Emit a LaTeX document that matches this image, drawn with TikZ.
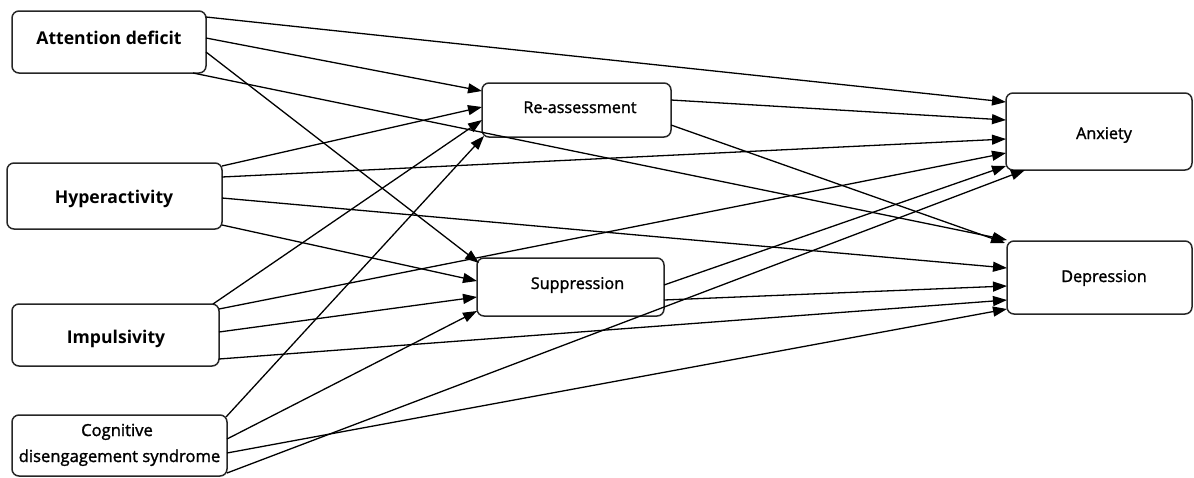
\documentclass[tikz,border=0pt]{standalone}
\usepackage{fontspec}
\setmainfont{Open Sans}
\newfontfamily\midfont{Open Sans}[FakeBold=1.5]
\usetikzlibrary{arrows.meta,calc}
\begin{document}
\begin{tikzpicture}[x=1pt,y=-1pt,
  box/.style={draw=black!85, line width=1.5pt, rounded corners=7pt, inner sep=0pt, outer sep=0pt},
  lefttext/.style={anchor=base, inner sep=0pt, font=\bfseries\fontsize{17.6}{22}\selectfont},
  midtext/.style={anchor=base, inner sep=0pt, font=\midfont\fontsize{16.2}{20}\selectfont},
  cdstext/.style={anchor=base, inner sep=0pt, font=\midfont\fontsize{16.6}{20}\selectfont},
  link/.style={draw=black, line width=1.3pt, -{Triangle[length=14pt,width=10pt]}}]
\useasboundingbox (0,0) rectangle (1194,477);

% boxes
\node[box, minimum width=194pt, minimum height=62pt] (ad)  at (109,42) {};
\node[box, minimum width=215pt, minimum height=66pt] (hyp) at (114.5,196) {};
\node[box, minimum width=207pt, minimum height=62pt] (imp) at (115.5,335) {};
\node[box, minimum width=215pt, minimum height=61pt] (cds) at (119.5,445.5) {};
\node[box, minimum width=189pt, minimum height=54pt] (rea) at (576.5,110) {};
\node[box, minimum width=187pt, minimum height=58pt] (sup) at (570.5,287) {};
\node[box, minimum width=186pt, minimum height=77pt] (anx) at (1099,131.5) {};
\node[box, minimum width=185pt, minimum height=73pt] (dep) at (1099.5,277.5) {};

% texts
\node[lefttext] (tad)  at (109,44)  {Attention deficit};
\node[lefttext] (thyp) at (114,203) {Hyperactivity};
\node[lefttext] (timp) at (116,343) {Impulsivity};
\node[cdstext]  (tcds1) at (117,436) {Cognitive};
\node[cdstext]  (tcds2) at (119.5,462) {disengagement syndrome};
\node[midtext]  (trea) at (580,113) {Re-assessment};
\node[midtext]  (tsup) at (577.5,289) {Suppression};
\node[midtext]  (tanx) at (1104,139) {Anxiety};
\node[midtext]  (tdep) at (1104,282) {Depression};

% connectors from Attention deficit
\draw[link] ($(ad.north east)+(0,6)$)  -- ($(anx.north west)+(0,9)$);
\draw[link] ($(ad.north east)+(0,27)$) -- ($(rea.north west)+(0,8)$);
\draw[link] ($(ad.north east)+(0,41)$) -- ($(sup.north west)+(2,5)$);
\draw[link] ($(ad.south east)+(-13,0)$) -- ($(dep.north west)+(0,-1)$);
% from Hyperactivity
\draw[link] ($(hyp.north east)+(0,3)$)  -- ($(rea.north west)+(0,24)$);
\draw[link] ($(hyp.north east)+(0,14)$) -- ($(anx.north west)+(0,46)$);
\draw[link] ($(hyp.north east)+(0,35)$) -- ($(dep.north west)+(0,27)$);
\draw[link] ($(hyp.north east)+(0,62)$) -- ($(sup.north west)+(0,23)$);
% from Impulsivity
\draw[link] ($(imp.north east)+(-6,0)$) -- ($(rea.north west)+(0,37)$);
\draw[link] ($(imp.north east)+(0,5)$)  -- ($(anx.north west)+(0,60)$);
\draw[link] ($(imp.north east)+(0,28)$) -- ($(sup.north west)+(0,39)$);
\draw[link] ($(imp.north east)+(0,55)$) -- ($(dep.north west)+(0,59)$);
% from Cognitive disengagement syndrome
\draw[link] ($(cds.north east)+(-1,2)$)  -- ($(rea.south west)+(2,-1)$);
\draw[link] ($(cds.north east)+(0,24)$) -- ($(sup.north west)+(0,53)$);
\draw[link] ($(cds.north east)+(0,38)$) -- ($(dep.north west)+(0,68)$);
\draw[link] ($(cds.north east)+(0,58)$) -- ($(anx.south west)+(19,0)$);
% from Re-assessment
\draw[link] ($(rea.north east)+(0,17)$) -- ($(anx.north west)+(0,27)$);
\draw[link] ($(rea.north east)+(0,42)$) -- ($(dep.north west)+(-2,2)$);
% from Suppression
\draw[link] ($(sup.north east)+(0,27)$) -- ($(anx.south west)+(0,-4)$);
\draw[link] ($(sup.north east)+(0,42)$) -- ($(dep.north west)+(0,45)$);
\end{tikzpicture}
\end{document}
